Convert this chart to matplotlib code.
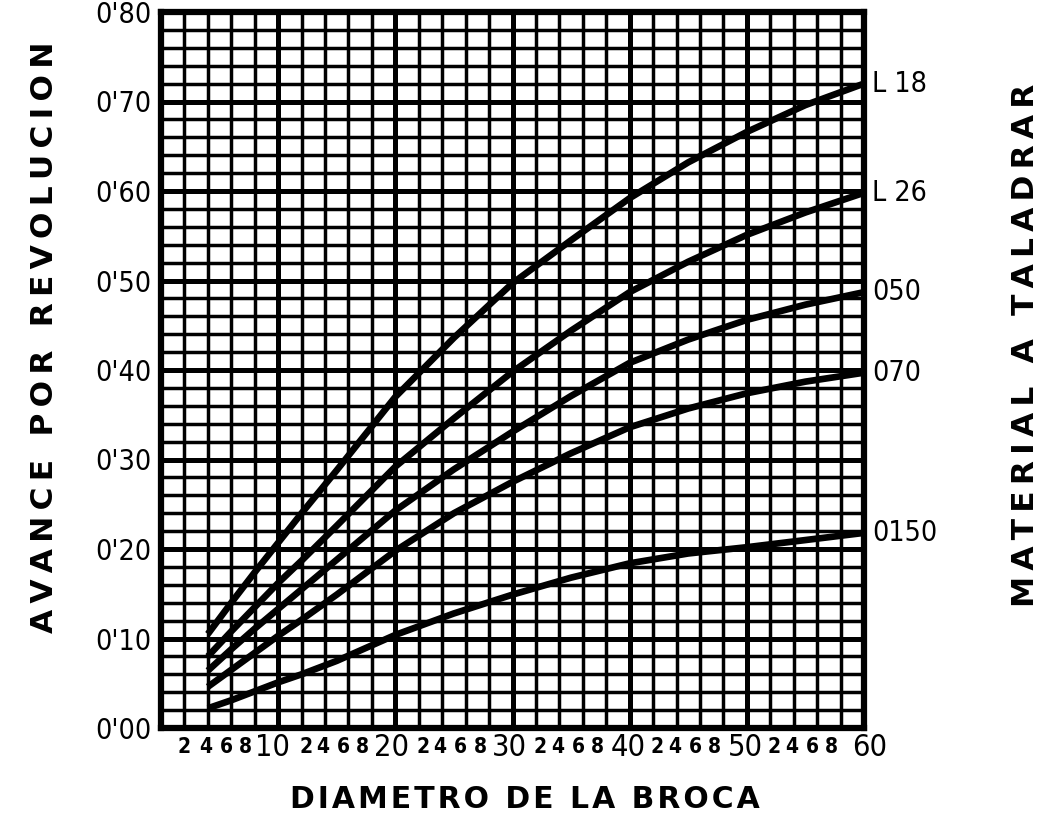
import matplotlib
matplotlib.use("Agg")
import matplotlib.pyplot as plt
from matplotlib import font_manager
from matplotlib.ticker import MultipleLocator, FixedLocator

# Drill diameter (mm) and feed per revolution (mm/rev) for each material
diametro = [4, 6, 8, 10, 12, 15, 20, 25, 30, 35, 40, 45, 50, 55, 60]
avance_L18 = [0.105, 0.140, 0.174, 0.207, 0.240, 0.288, 0.370, 0.436, 0.497, 0.545, 0.592, 0.632, 0.666, 0.696, 0.720]
avance_L26 = [0.080, 0.108, 0.135, 0.162, 0.187, 0.226, 0.292, 0.346, 0.398, 0.444, 0.487, 0.521, 0.551, 0.576, 0.598]
avance_050 = [0.064, 0.088, 0.111, 0.133, 0.155, 0.188, 0.243, 0.289, 0.331, 0.371, 0.408, 0.434, 0.456, 0.473, 0.487]
avance_070 = [0.046, 0.065, 0.084, 0.103, 0.121, 0.149, 0.198, 0.240, 0.275, 0.307, 0.336, 0.357, 0.374, 0.387, 0.397]
avance_0150 = [0.022, 0.031, 0.041, 0.051, 0.060, 0.075, 0.104, 0.128, 0.149, 0.168, 0.184, 0.195, 0.202, 0.210, 0.218]

materiales = ["L 18", "L 26", "050", "070", "0150"]
series = [avance_L18, avance_L26, avance_050, avance_070, avance_0150]

y_ticks = [0.0, 0.1, 0.2, 0.3, 0.4, 0.5, 0.6, 0.7, 0.8]
y_tick_labels = ["0'00", "0'10", "0'20", "0'30", "0'40", "0'50", "0'60", "0'70", "0'80"]
x_major_ticks = [10, 20, 30, 40, 50, 60]
x_major_labels = ["10", "20", "30", "40", "50", "60"]
x_minor_ticks = [d + u for d in (0, 10, 20, 30, 40, 50) for u in (2, 4, 6, 8)]
x_minor_labels = [str(u) for d in (0, 10, 20, 30, 40, 50) for u in (2, 4, 6, 8)]

# Narrow face for the numerals, wide bold face for the titles
entries = font_manager.fontManager.ttflist
names = {f.name for f in entries}
narrow_stretch = "normal"
if "Liberation Sans Narrow" in names:
    narrow = "Liberation Sans Narrow"
else:
    cond = [f.name for f in entries
            if str(f.stretch) in ("condensed", "semi-condensed", "extra-condensed")
            and "Mono" not in f.name and "Serif" not in f.name]
    if cond:
        narrow, narrow_stretch = cond[0], "condensed"
    else:
        narrow = "Liberation Sans"
plt.rcParams["font.family"] = [narrow, "DejaVu Sans"]
plt.rcParams["font.stretch"] = narrow_stretch

fig = plt.figure(figsize=(10.42, 8.18), dpi=100)
ax = fig.add_axes([161 / 1042, 1 - 728 / 818, 703 / 1042, 716 / 818])

ax.set_xlim(0, 60)
ax.set_ylim(0, 0.80)

# Ruled grid: heavy lines every 10 mm / 0.10, light lines every 2 mm / 0.02
ax.xaxis.set_major_locator(MultipleLocator(10))
ax.xaxis.set_minor_locator(MultipleLocator(2))
ax.yaxis.set_major_locator(FixedLocator(y_ticks))
ax.yaxis.set_minor_locator(MultipleLocator(0.02))
ax.set_yticklabels(y_tick_labels)
ax.set_xticklabels([])

ax.grid(which="major", color="black", linewidth=3.6)
ax.grid(which="minor", color="black", linewidth=2.5)
ax.set_axisbelow(True)
for sp in ax.spines.values():
    sp.set_linewidth(4.5)

ax.tick_params(which="both", length=0)
ax.tick_params(axis="y", which="major", labelsize=20.5, pad=7)

# Diameter scale typed under the grid: small units, larger tens
minor_shift = {"2": 0, "4": -1.5, "6": -3.5, "8": -6.5}
major_shift = {"10": -4, "20": -3, "30": -2, "40": -1, "50": -1, "60": 4}
for xv, lab in zip(x_minor_ticks, x_minor_labels):
    dx = minor_shift[lab]
    if xv > 10 and lab == "2":
        dx += 3  # leave room after the preceding tens figure
    ax.annotate(lab, xy=(xv, 0), xycoords=("data", "axes fraction"),
                xytext=(dx, -13.5), textcoords="offset points",
                ha="center", va="center", fontsize=15, fontweight="bold",
                annotation_clip=False)
for xv, lab in zip(x_major_ticks, x_major_labels):
    ax.annotate(lab, xy=(xv, 0), xycoords=("data", "axes fraction"),
                xytext=(major_shift[lab], -14), textcoords="offset points",
                ha="center", va="center", fontsize=22,
                annotation_clip=False)

# Feed curves with material names at their right-hand ends
for nombre, valores in zip(materiales, series):
    ax.plot(diametro, valores, color="black", linewidth=4.8,
            solid_capstyle="butt", solid_joinstyle="round", zorder=3)
    ax.annotate(nombre, xy=(diametro[-1], valores[-1]), xytext=(6, 0),
                textcoords="offset points", ha="left", va="center",
                fontsize=20.5, annotation_clip=False)


def espaciado(texto, sep):
    return sep.join(texto)


title_font = dict(family="DejaVu Sans", fontweight="bold", fontstretch="normal")
fig.text(45 / 1042, 1 - 337 / 818, espaciado("AVANCE POR REVOLUCION", "\u2009"),
         rotation=90, ha="center", va="center", fontsize=22.5, **title_font)
fig.text(1025 / 1042, 1 - 345 / 818, espaciado("MATERIAL A TALADRAR", "\u2009"),
         rotation=90, ha="center", va="center", fontsize=22.5, **title_font)
fig.text(525 / 1042, 1 - 800 / 818, espaciado("DIAMETRO DE LA BROCA", "\u200a"),
         ha="center", va="center", fontsize=21.5, **title_font)

fig.savefig("out.png", dpi=100, facecolor="white")
